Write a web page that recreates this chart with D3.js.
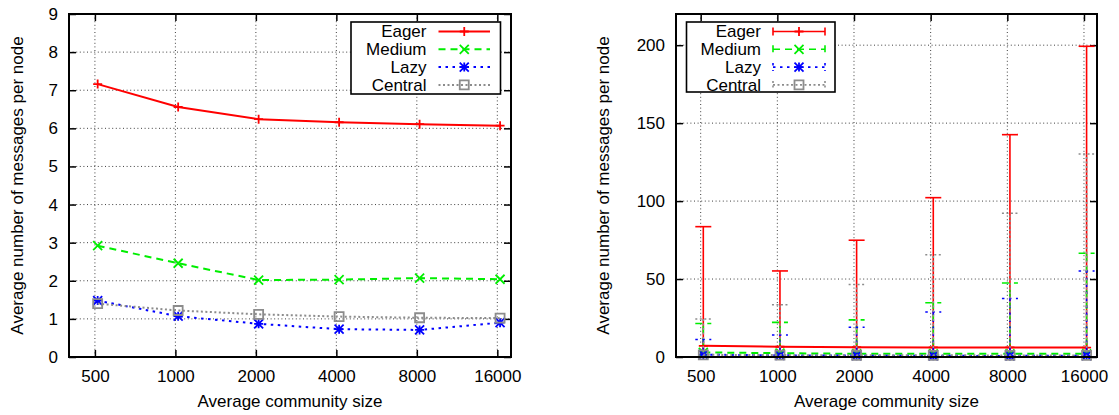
<!DOCTYPE html>
<html>
<head>
<meta charset="utf-8">
<script src="https://cdn.jsdelivr.net/npm/d3@7"></script>
<style>
  html, body { margin: 0; padding: 0; background: #fff; }
  svg { display: block; font-family: "Liberation Sans", Arial, Helvetica, sans-serif; }
</style>
</head>
<body>
<svg id="chart" width="1119" height="415"></svg>
<script>
// Community sizes used in the simulations, and the labels on the x axis
const communitySizes = [512, 1024, 2048, 4096, 8192, 16384];
const xTickValues = [500, 1000, 2000, 4000, 8000, 16000];

const seriesNames = ["Eager", "Medium", "Lazy", "Central"];

// Mean messages per node
const eagerMean   = [7.16, 6.56, 6.24, 6.16, 6.11, 6.07];
const mediumMean  = [2.92, 2.46, 2.02, 2.03, 2.07, 2.04];
const lazyMean    = [1.48, 1.07, 0.87, 0.73, 0.71, 0.90];
const centralMean = [1.40, 1.22, 1.12, 1.06, 1.03, 1.02];

// Per-node minimum and maximum (error bars in the right panel)
const eagerMin   = [0, 0, 0, 0, 0, 0];
const mediumMin  = [0, 0, 0, 0, 0, 0];
const lazyMin    = [0, 0, 0, 0, 0, 0];
const centralMin = [0, 0, 0, 0, 0, 0];
const eagerMax   = [83.6, 55.2, 74.9, 102.2, 142.6, 199.3];
const mediumMax  = [21.5, 22.2, 23.8, 34.8, 47.5, 66.5];
const lazyMax    = [11.2, 14.1, 19.1, 28.9, 37.5, 55.2];
const centralMax = [24.4, 33.5, 46.5, 65.6, 92.2, 130.2];

const leftYTicks  = [0, 1, 2, 3, 4, 5, 6, 7, 8, 9];
const rightYTicks = [0, 50, 100, 150, 200];

const xTitle = "Average community size";
const yTitle = "Average number of messages per node";

const series = [
  { name: "Eager",   mean: eagerMean,   min: eagerMin,   max: eagerMax },
  { name: "Medium",  mean: mediumMean,  min: mediumMin,  max: mediumMax },
  { name: "Lazy",    mean: lazyMean,    min: lazyMin,    max: lazyMax },
  { name: "Central", mean: centralMean, min: centralMin, max: centralMax }
];

const styles = {
  Eager:   { color: "#ff0000", dash: null,      marker: "plus" },
  Medium:  { color: "#00ee00", dash: "7,5",     marker: "cross" },
  Lazy:    { color: "#0000ff", dash: "2.5,4.5", marker: "star" },
  Central: { color: "#8c8c8c", dash: "2,2.5",   marker: "square" }
};

const FONT = 17;
const svg = d3.select("#chart");

function markerPath(type, s) {
  const plus = `M${-s},0H${s}M0,${-s}V${s}`;
  const cross = `M${-s},${-s}L${s},${s}M${-s},${s}L${s},${-s}`;
  if (type === "plus") return plus;
  if (type === "cross") return cross;
  if (type === "star") return plus + cross;
  return `M${-s},${-s}H${s}V${s}H${-s}Z`;
}

function drawPanel(cfg) {
  const g = svg.append("g");
  const x = d3.scaleLog().domain([400, 18000]).range([cfg.x0, cfg.x1]);
  const y = d3.scaleLinear().domain(cfg.yDomain).range([cfg.y1, cfg.y0]);

  // dotted grid
  const grid = g.append("g").attr("stroke", "#000").attr("stroke-width", 1)
    .attr("stroke-dasharray", "1,2.6").attr("opacity", 0.75);
  grid.selectAll("line.gx").data(xTickValues).join("line").attr("class", "gx")
    .attr("x1", d => x(d)).attr("x2", d => x(d)).attr("y1", cfg.y0).attr("y2", cfg.y1);
  grid.selectAll("line.gy").data(cfg.yTicks.filter(v => v > cfg.yDomain[0])).join("line").attr("class", "gy")
    .attr("x1", cfg.x0).attr("x2", cfg.x1).attr("y1", d => y(d)).attr("y2", d => y(d));

  // axes with inward ticks, mirrored on top and right
  const styleAxis = sel => {
    sel.select(".domain").remove();
    sel.selectAll(".tick line").attr("stroke", "#000").attr("stroke-width", 1.5);
    sel.selectAll(".tick text").attr("fill", "#000").attr("font-size", FONT)
      .attr("font-family", "Liberation Sans, Arial, sans-serif");
  };
  g.append("g").attr("transform", `translate(0,${cfg.y1})`)
    .call(d3.axisBottom(x).tickValues(xTickValues).tickFormat(d3.format("d")).tickSize(-7).tickPadding(13))
    .call(styleAxis);
  g.append("g").attr("transform", `translate(0,${cfg.y0})`)
    .call(d3.axisTop(x).tickValues(xTickValues).tickFormat("").tickSize(-7))
    .call(styleAxis);
  g.append("g").attr("transform", `translate(${cfg.x0},0)`)
    .call(d3.axisLeft(y).tickValues(cfg.yTicks).tickFormat(d3.format("d")).tickSize(-7).tickPadding(11))
    .call(styleAxis);
  g.append("g").attr("transform", `translate(${cfg.x1},0)`)
    .call(d3.axisRight(y).tickValues(cfg.yTicks).tickFormat("").tickSize(-7))
    .call(styleAxis);

  // data
  const line = d3.line().x((d, i) => x(communitySizes[i])).y(d => y(d));
  const capHalf = 8;
  series.forEach(s => {
    const st = styles[s.name];
    const sg = g.append("g").attr("stroke", st.color).attr("fill", "none");
    if (cfg.errorBars) {
      const bars = sg.append("g").attr("stroke-width", 1.6).attr("stroke-dasharray", st.dash);
      communitySizes.forEach((cs, i) => {
        const cx = x(cs);
        bars.append("line").attr("x1", cx).attr("x2", cx).attr("y1", y(s.min[i])).attr("y2", y(s.max[i]));
        bars.append("line").attr("x1", cx - capHalf).attr("x2", cx + capHalf).attr("y1", y(s.max[i])).attr("y2", y(s.max[i]));
        bars.append("line").attr("x1", cx - capHalf).attr("x2", cx + capHalf).attr("y1", y(s.min[i])).attr("y2", y(s.min[i]));
      });
    }
    sg.append("path").datum(s.mean).attr("d", line)
      .attr("stroke-width", 2).attr("stroke-dasharray", st.dash);
    sg.selectAll("path.pt").data(s.mean).join("path").attr("class", "pt")
      .attr("transform", (d, i) => `translate(${x(communitySizes[i])},${y(d)})`)
      .attr("d", markerPath(st.marker, 4.5)).attr("stroke-width", 1.8)
      .attr("fill", st.marker === "square" ? "none" : null);
  });

  // frame
  g.append("rect").attr("x", cfg.x0).attr("y", cfg.y0)
    .attr("width", cfg.x1 - cfg.x0).attr("height", cfg.y1 - cfg.y0)
    .attr("fill", "none").attr("stroke", "#000").attr("stroke-width", 2);

  // legend
  const L = cfg.legend;
  const lg = g.append("g");
  lg.append("rect").attr("x", L.x0).attr("y", L.y0).attr("width", L.x1 - L.x0).attr("height", L.y1 - L.y0)
    .attr("fill", "#fff").attr("stroke", "#000").attr("stroke-width", 1.6);
  seriesNames.forEach((name, i) => {
    const st = styles[name];
    const ry = L.y0 + 9.5 + i * 17.8;
    lg.append("text").attr("x", L.textX).attr("y", ry).attr("dy", "0.35em")
      .attr("text-anchor", "end").attr("font-size", FONT).attr("fill", "#000").text(name);
    const sw = cfg.errorBars ? 1.6 : 2;
    lg.append("line").attr("x1", L.s0).attr("x2", L.s1).attr("y1", ry).attr("y2", ry)
      .attr("stroke", st.color).attr("stroke-width", sw).attr("stroke-dasharray", st.dash);
    if (cfg.errorBars) {
      [L.s0, L.s1].forEach(cx => lg.append("line").attr("x1", cx).attr("x2", cx)
        .attr("y1", ry - 4).attr("y2", ry + 4).attr("stroke", st.color).attr("stroke-width", sw)
        .attr("stroke-dasharray", st.dash));
    }
    lg.append("path").attr("transform", `translate(${(L.s0 + L.s1) / 2},${ry})`)
      .attr("d", markerPath(st.marker, 4.5)).attr("stroke", st.color).attr("stroke-width", 1.8)
      .attr("fill", "none");
  });

  // titles
  g.append("text").attr("x", (cfg.x0 + cfg.x1) / 2).attr("y", 407)
    .attr("text-anchor", "middle").attr("font-size", FONT).attr("fill", "#000").text(xTitle);
  g.append("text").attr("transform", `translate(${cfg.yTitleX},${(cfg.y0 + cfg.y1) / 2}) rotate(-90)`)
    .attr("dy", "0.35em").attr("text-anchor", "middle").attr("font-size", FONT).attr("fill", "#000").text(yTitle);
}

drawPanel({
  x0: 69, x1: 511, y0: 14, y1: 357,
  yDomain: [0, 9], yTicks: leftYTicks, errorBars: false,
  legend: { x0: 351, y0: 22, x1: 500.5, y1: 94, textX: 426.5, s0: 438.5, s1: 490 },
  yTitleX: 17.5
});

drawPanel({
  x0: 676, x1: 1097, y0: 14, y1: 357,
  yDomain: [0, 220], yTicks: rightYTicks, errorBars: true,
  legend: { x0: 686.5, y0: 22, x1: 835, y1: 92, textX: 761, s0: 773, s1: 825 },
  yTitleX: 603
});
</script>
</body>
</html>
